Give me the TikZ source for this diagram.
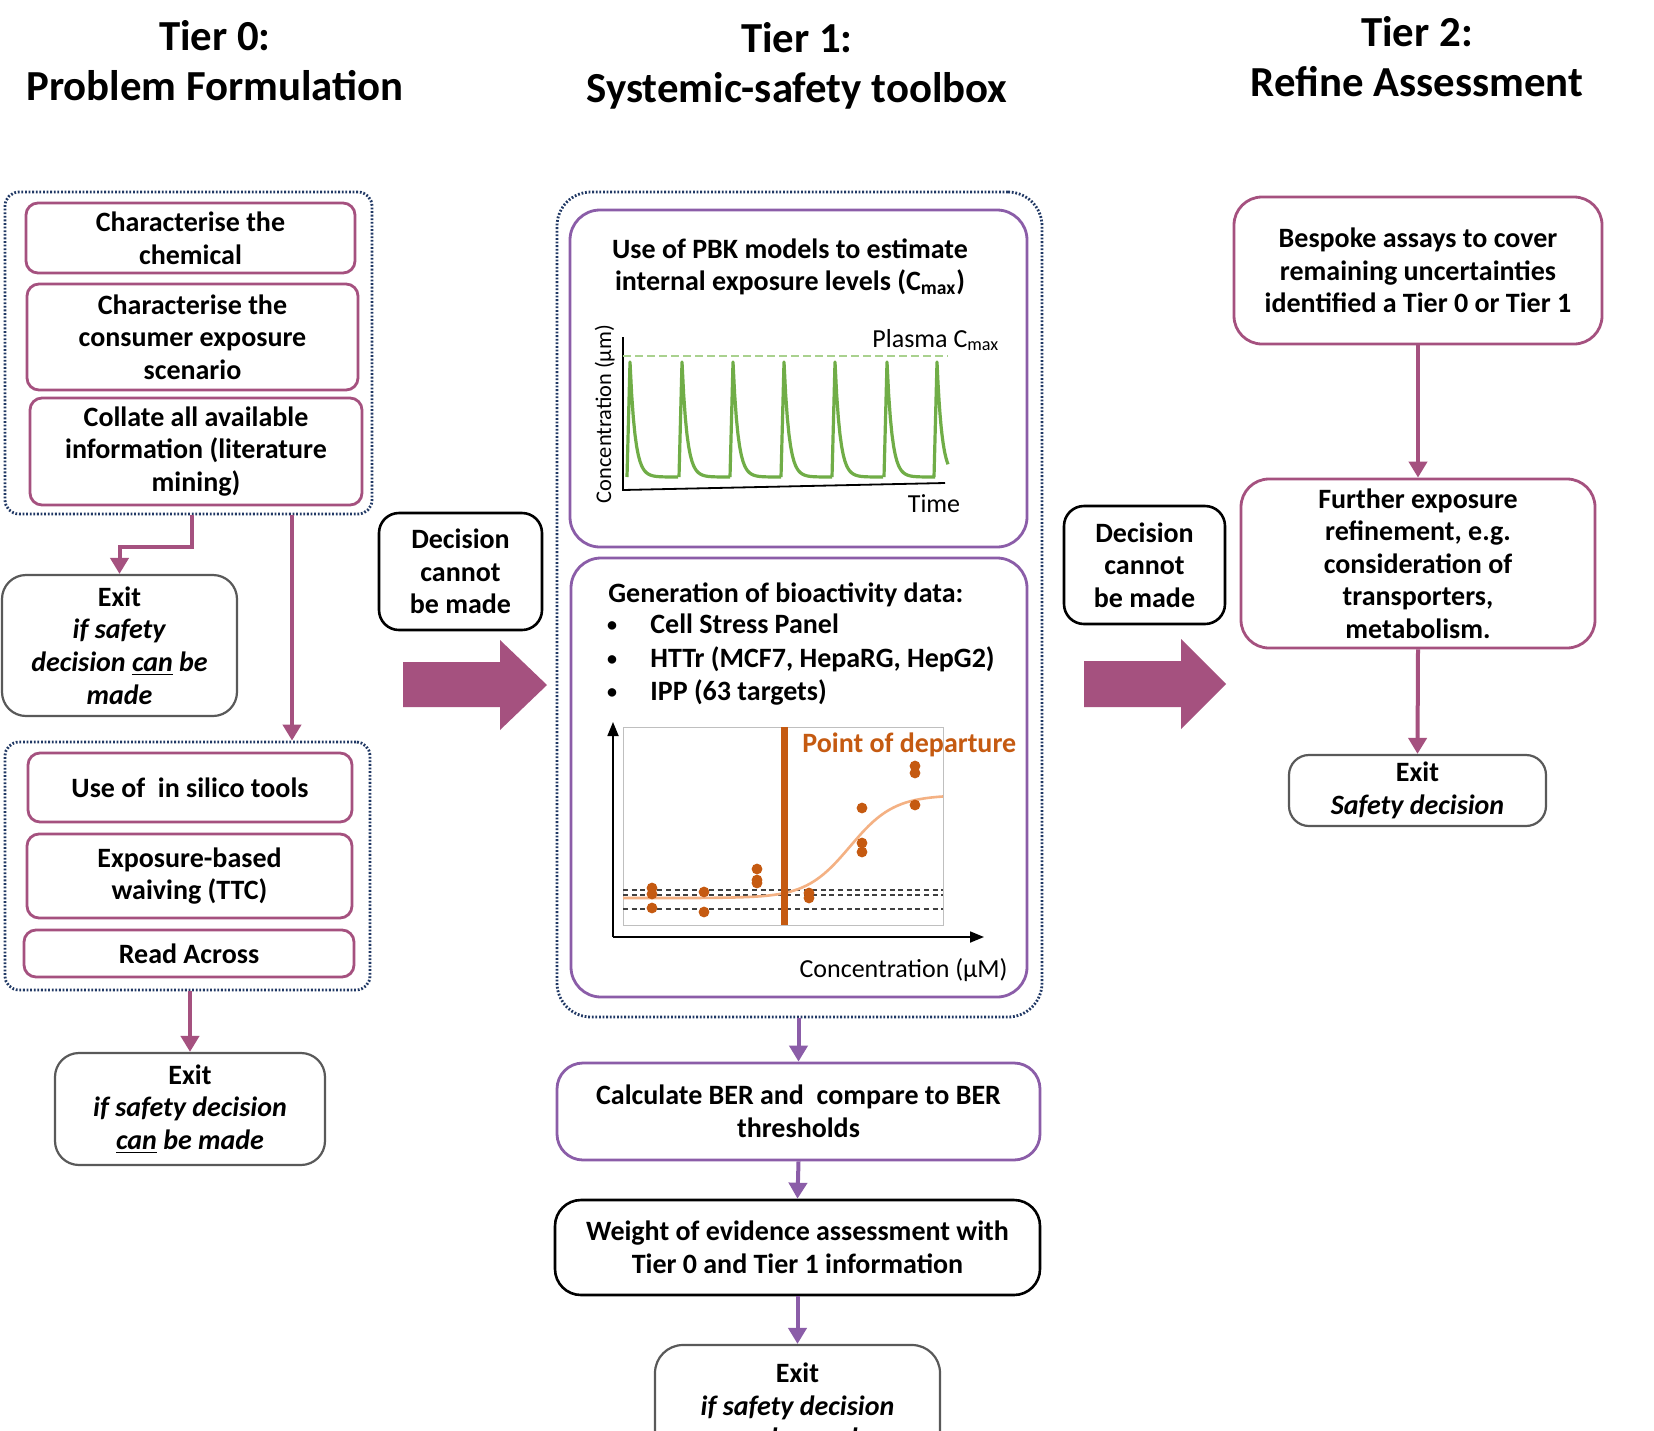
\documentclass[tikz,border=0pt]{standalone}
\usepackage{fontspec}
\setmainfont{Carlito}
\usetikzlibrary{arrows.meta,calc}
\definecolor{mag}{HTML}{A5517F}
\definecolor{pur}{HTML}{8B5DA8}
\definecolor{navy}{HTML}{203864}
\definecolor{exitgray}{HTML}{595959}
\definecolor{pod}{HTML}{C55A11}
\definecolor{peach}{HTML}{F4B183}
\definecolor{pkgreen}{HTML}{70AD47}
\definecolor{ltgreen}{HTML}{A9D18E}
\newcommand\bx[7]{\node[#6,minimum width={(#4-#2)*0.5pt},minimum height={(#5-#3)*0.5pt}] (#1) at ({(#2+#4)/2},{(#3+#5)/2}) {#7};}
\tikzset{
  txt/.style={font=\fontsize{14}{16.3}\selectfont\bfseries, align=center, inner sep=0pt},
  head/.style={font=\fontsize{21.4}{25}\selectfont\bfseries, inner sep=0pt, anchor=base},
  t0box/.style={txt, draw=mag, line width=1.4pt, rounded corners=6pt, fill=white},
  t1box/.style={txt, draw=pur, line width=1.4pt, rounded corners=15pt, fill=white},
  t2box/.style={txt, draw=mag, line width=1.4pt, rounded corners=14pt, fill=white},
  exitbox/.style={txt, draw=exitgray, line width=1.1pt, rounded corners=12pt, fill=white},
  decbox/.style={txt, draw=black, line width=1.3pt, rounded corners=10pt, fill=white},
  grp/.style={draw=navy, line width=1.4pt, dash pattern=on 0.9pt off 0.9pt, rounded corners=7pt},
  arr0/.style={draw=mag, line width=2pt, -{Triangle[width=9pt,length=8pt]}},
  arr1/.style={draw=pur, line width=2pt, -{Triangle[width=9pt,length=8pt]}},
  pk/.style={draw=pkgreen, line width=1.6pt, line join=round},
  lbl/.style={font=\fontsize{13}{15}\selectfont, inner sep=0pt},
  dashln/.style={draw=black!75, line width=0.8pt, dash pattern=on 2.5pt off 1.8pt},
  axis/.style={draw=black, line width=0.9pt},
}
\begin{document}
\begin{tikzpicture}[x=0.5pt,y=-0.5pt]
\useasboundingbox (0,0) rectangle (1654,1430);
\clip (0,0) rectangle (1654,1430);
\fill[white] (0,0) rectangle (1654,1430);

% headings
\node[head] (h0a) at (215,50) {Tier 0:};
\node[head] (h0b) at (215,100) {Problem Formulation};
\node[head] (h1a) at (797,52) {Tier 1:};
\node[head] (h1b) at (797,102) {Systemic-safety toolbox};
\node[head] (h2a) at (1417,46) {Tier 2:};
\node[head] (h2b) at (1417,96) {Refine Assessment};

% ---------- Tier 0 ----------
\bx{g0a}{5}{192}{372}{514}{grp}{}
\bx{a1}{26}{203}{355}{273}{t0box}{Characterise the\\chemical}
\bx{a2}{27}{284}{358}{390}{t0box}{Characterise the\\consumer exposure\\scenario}
\bx{a3}{30}{398}{362}{505}{t0box}{Collate all available\\information (literature\\mining)}
\bx{ex1}{2}{575}{237}{716}{exitbox}{Exit\\\textit{if safety}\\\textit{decision \underline{can} be}\\\textit{made}}
\bx{g0b}{5}{742}{370}{990}{grp}{}
\bx{b1}{28}{753}{352}{822}{t0box}{Use of~ in silico tools}
\bx{b2}{27}{834}{352}{918}{t0box}{Exposure-based\\waiving (TTC)}
\bx{b3}{24}{930}{354}{977}{t0box}{Read Across}
\bx{ex2}{55}{1053}{325}{1165}{exitbox}{Exit\\\textit{if safety decision}\\\textit{\underline{can} be made}}

\coordinate (j1) at (192,547);
\coordinate (j2) at (292,0);
\draw[arr0] (g0a.south -| j1) -- (j1) -| (ex1.north);
\draw[arr0] (g0a.south -| j2) -- (g0b.north -| j2);
\draw[arr0] (g0b.south -| ex2.north) -- (ex2.north);

% ---------- decision + big arrow 1 ----------
\bx{d1}{379}{513}{542}{630}{decbox}{Decision\\cannot\\be made}
\fill[mag] (403,662) -- (500,662) -- (500,640) -- (547,685) -- (500,730) -- (500,707) -- (403,707) -- cycle;

% ---------- Tier 1 ----------
\bx{g1}{557}{192}{1042}{1017}{grp, rounded corners=17pt}{}
\bx{pbk}{570}{210}{1027}{547}{t1box}{}
\bx{bio}{571}{558}{1027}{997}{t1box}{}

\node[txt, anchor=base] (pbkt1) at (790,258) {Use of PBK models to estimate};
\node[txt, anchor=base] (pbkt2) at (790,290) {internal exposure levels (C\textsubscript{max})};

% PBK plot
\draw[axis] (623,337) -- (623,490) -- (945,483);
\draw[ltgreen, line width=1.1pt, dash pattern=on 4pt off 2pt] (623,356) -- (948,356);
\foreach \p in {630,682,733,784,835,887}
  \draw[pk] (\p-3,477) -- (\p,362) -- plot[domain=0:48,samples=30] ({\p+\x},{477-115*exp(-\x/5)});
\draw[pk] (934,477) -- (937,362) -- plot[domain=0:11,samples=12] ({937+\x},{477-115*exp(-\x/5)});
\node[lbl, anchor=base west] (plasma) at (872,347) {Plasma C\textsubscript{max}};
\node[lbl, anchor=base] (time) at (934,512) {Time};
\node[lbl, font=\fontsize{11.2}{13}\selectfont, rotate=90, anchor=base] (cyl) at (611,414) {Concentration (µm)};

% bioactivity text
\node[txt, anchor=base west] (biot) at (608,602) {Generation of bioactivity data:};
\node[txt, font=\fontsize{10}{12}\selectfont\bfseries, anchor=base] (bu1) at (612,631) {•};
\node[txt, font=\fontsize{10}{12}\selectfont\bfseries, anchor=base] (bu2) at (612,665) {•};
\node[txt, font=\fontsize{10}{12}\selectfont\bfseries, anchor=base] (bu3) at (612,698) {•};
\node[txt, anchor=base west] (bl1) at (650,633) {Cell Stress Panel};
\node[txt, anchor=base west] (bl2) at (650,667) {HTTr (MCF7, HepaRG, HepG2)};
\node[txt, anchor=base west] (bl3) at (650,700) {IPP (63 targets)};

% bioactivity plot
\draw[black!25, line width=0.4pt] (623,727) rectangle (943,925);
\draw[dashln] (623,890) -- (943,890);
\draw[dashln] (623,895) -- (943,895);
\draw[dashln] (623,909) -- (943,909);
\draw[peach, line width=1.3pt] (623,898) -- (700,898) -- plot[domain=700:943,samples=60] (\x,{898-103/(1+exp(-(\x-850)/22))});
\draw[pod, line width=3.5pt] (784,727) -- (784,925);
\foreach \a/\b in {652/888,652/894,652/908,704/892,704/912,757/869,757/880,757/883,809/893,809/898,862/808,862/843,862/852,915/766,915/773,915/805}
  \fill[pod] (\a,\b) circle[radius=2.7pt];
\draw[axis, -{Triangle[width=5.5pt,length=7pt]}] (613,937) -- (613,722);
\draw[axis, -{Triangle[width=5.5pt,length=7pt]}] (613,937) -- (984,937);
\node[txt, text=pod, anchor=base west] (podl) at (802,752) {Point of departure};
\node[lbl, anchor=base east] (cxl) at (1008,977) {Concentration (µM)};

\bx{ber}{557}{1063}{1040}{1160}{t1box, rounded corners=13pt}{Calculate BER and~ compare to BER\\thresholds}
\bx{woe}{555}{1200}{1040}{1295}{decbox, rounded corners=13pt}{Weight of evidence assessment with\\Tier 0 and Tier 1 information}
\bx{ex3}{655}{1345}{940}{1470}{exitbox, rounded corners=14pt}{Exit\\\textit{if safety decision}\\\textit{\underline{can} be made}}

\draw[arr1] (g1.south -| ber.north) -- (ber.north);
\draw[arr1] (ber.south) -- (woe.north);
\draw[arr1] (woe.south) -- (ex3.north);

% ---------- decision + big arrow 2 ----------
\bx{d2}{1064}{506}{1225}{624}{decbox}{Decision\\cannot\\be made}
\fill[mag] (1084,661) -- (1181,661) -- (1181,639) -- (1226,684) -- (1181,729) -- (1181,707) -- (1084,707) -- cycle;

% ---------- Tier 2 ----------
\bx{besp}{1234}{197}{1602}{344}{t2box}{Bespoke assays to cover\\remaining uncertainties\\identified a Tier 0 or Tier 1}
\bx{fur}{1241}{479}{1595}{648}{t2box}{Further exposure\\refinement, e.g.\\consideration of\\transporters,\\metabolism.}
\bx{exs}{1289}{755}{1546}{826}{exitbox, rounded corners=10pt}{Exit\\\textit{Safety decision}}
\draw[arr0] (besp.south) -- (fur.north);
\draw[arr0] (fur.south) -- (exs.north);
\end{tikzpicture}
\end{document}
